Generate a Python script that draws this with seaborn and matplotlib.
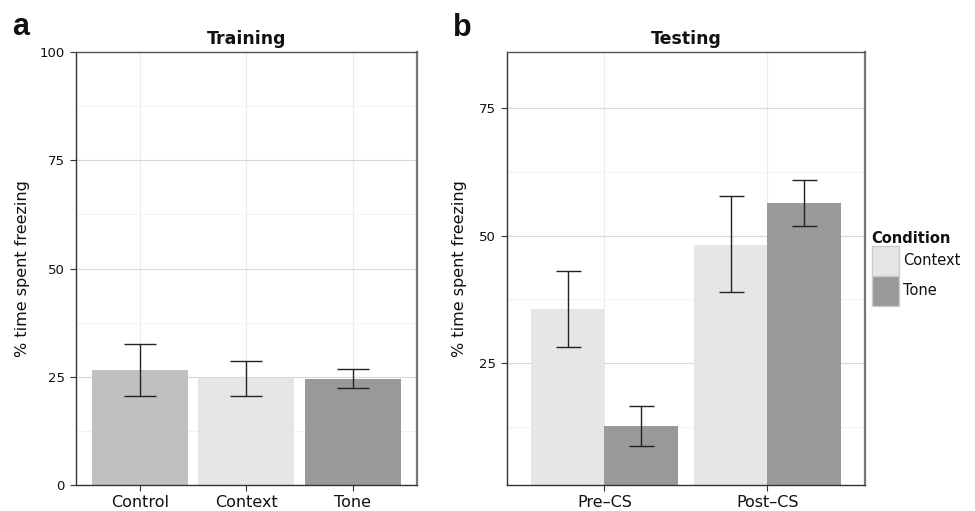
import numpy as np
import pandas as pd
import matplotlib
matplotlib.use("Agg")
import matplotlib.pyplot as plt
import seaborn as sns
from matplotlib.patches import Patch
from matplotlib.ticker import MultipleLocator

# --- data ---
train_groups = ["Control", "Context", "Tone"]
train_mean = [26.6, 24.6, 24.5]
train_lo = [20.6, 20.6, 22.5]
train_hi = [32.6, 28.7, 26.8]

test_phase = ["Pre\u2013CS", "Pre\u2013CS", "Post\u2013CS", "Post\u2013CS"]
test_cond = ["Context", "Tone", "Context", "Tone"]
test_mean = [35.6, 12.7, 48.2, 56.4]
test_lo = [28.1, 8.8, 38.9, 51.8]
test_hi = [43.1, 16.6, 57.7, 60.9]

colors = {"Control": "#c0c0c0", "Context": "#e5e6e5", "Tone": "#999999"}

sns.set_style("white")
plt.rcParams["font.family"] = ["DejaVu Sans"]
plt.rcParams["text.color"] = "#111111"
plt.rcParams["axes.labelcolor"] = "#111111"
plt.rcParams["xtick.color"] = "#111111"
plt.rcParams["ytick.color"] = "#111111"

fig = plt.figure(figsize=(9.75, 5.11), dpi=100)
ax1 = fig.add_axes([0.0779, 0.0509, 0.3497, 0.8473])
ax2 = fig.add_axes([0.5197, 0.0509, 0.3675, 0.8473])

df_a = pd.DataFrame({"group": train_groups, "val": train_mean})
df_b = pd.DataFrame({"phase": test_phase, "cond": test_cond, "val": test_mean})

sns.barplot(data=df_a, x="group", y="val", hue="group", palette=colors,
            width=0.9, saturation=1, errorbar=None, linewidth=0, legend=False, ax=ax1)
sns.barplot(data=df_b, x="phase", y="val", hue="cond", palette=colors,
            order=["Pre\u2013CS", "Post\u2013CS"], hue_order=["Context", "Tone"],
            width=0.9, saturation=1, errorbar=None, linewidth=0, ax=ax2)
if ax2.get_legend() is not None:
    ax2.get_legend().remove()


def add_err(ax, means, lo, hi, capsize):
    bars = [p for p in ax.patches if p.get_height() > 0 and p.get_width() > 0]
    bars = sorted(bars, key=lambda p: p.get_x())
    m = np.array(means)
    for p in bars:
        x = p.get_x() + p.get_width() / 2
        i = int(np.argmin(np.abs(m - p.get_height())))
        ax.errorbar(x, means[i], yerr=[[means[i] - lo[i]], [hi[i] - means[i]]],
                    fmt="none", ecolor="#222222", elinewidth=1.0,
                    capsize=capsize, capthick=1.0, zorder=5)


add_err(ax1, train_mean, train_lo, train_hi, 11.5)
add_err(ax2, test_mean, test_lo, test_hi, 9)

for ax in (ax1, ax2):
    ax.set_axisbelow(True)
    ax.yaxis.set_major_locator(MultipleLocator(25))
    ax.yaxis.set_minor_locator(MultipleLocator(12.5))
    ax.grid(True, which="major", axis="y", color="#d9d9d9", lw=0.8)
    ax.grid(True, which="minor", axis="y", color="#f2f2f2", lw=0.8)
    ax.grid(True, which="major", axis="x", color="#ebebeb", lw=0.8)
    ax.tick_params(axis="both", which="major", direction="out", length=4,
                   width=0.8, color="#333333", left=True, bottom=True)
    ax.tick_params(axis="y", which="major", labelsize=9.5, pad=4)
    ax.tick_params(axis="x", which="major", labelsize=11.5, pad=3)
    ax.tick_params(which="minor", length=0)
    ax.set_xlabel("")
    ax.set_ylabel("% time spent freezing", fontsize=11.5)
    for s in ("left", "bottom"):
        ax.spines[s].set_color("#333333")
        ax.spines[s].set_linewidth(1.0)
    ax.spines["top"].set_color("#555555")
    ax.spines["top"].set_linewidth(1.0)
    ax.spines["right"].set_color("#777777")
    ax.spines["right"].set_linewidth(1.6)
    for s in ax.spines.values():
        s.set_visible(True)

ax1.set_xlim(-0.6, 2.6)
ax1.set_ylim(0, 100)
ax1.set_yticks([0, 25, 50, 75, 100])
ax1.yaxis.labelpad = 7
ax1.set_title("Training", fontweight="bold", fontsize=12.5, pad=6)

ax2.set_xlim(-0.6, 1.6)
ax2.set_ylim(1.1, 86.0)
ax2.set_yticks([25, 50, 75])
ax2.yaxis.labelpad = 8
ax2.set_title("Testing", fontweight="bold", fontsize=12.5, pad=6)

handles = [Patch(facecolor=colors[c], edgecolor="#cccccc", linewidth=1.0, label=c)
           for c in ["Context", "Tone"]]
ax2.legend(handles=handles, title="Condition", loc="center left",
           bbox_to_anchor=(1.0, 0.5), frameon=False, fontsize=10.5,
           title_fontproperties={"weight": "bold", "size": 10.5},
           handlelength=1.9, handleheight=2.8, labelspacing=0,
           handletextpad=0.25, borderpad=0, borderaxespad=0.45,
           alignment="left")

fig.text(12 / 975, 1 - 35 / 511, "a", fontsize=22, fontweight="bold",
         family=["Liberation Sans", "DejaVu Sans"], ha="left", va="baseline")
fig.text(453 / 975, 1 - 36 / 511, "b", fontsize=22, fontweight="bold",
         family=["Liberation Sans", "DejaVu Sans"], ha="left", va="baseline")

fig.savefig("out.png", dpi=100)
